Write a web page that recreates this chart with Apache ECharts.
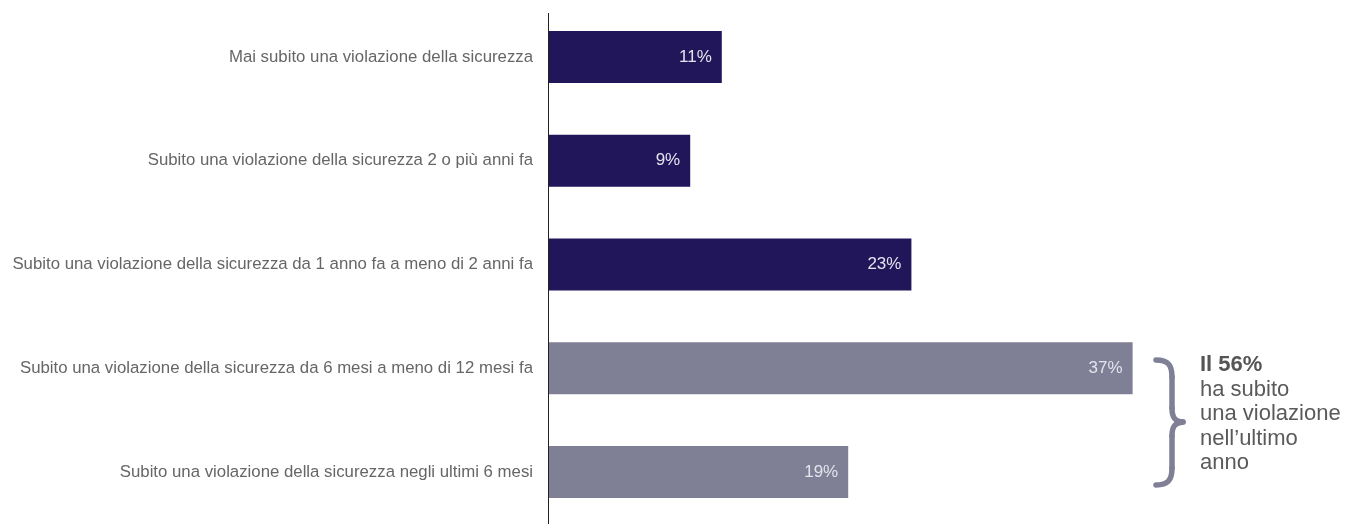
<!DOCTYPE html>
<html>
<head>
<meta charset="utf-8">
<script src="https://cdn.jsdelivr.net/npm/echarts@6/dist/echarts.min.js"></script>
<style>
html,body{margin:0;padding:0;background:#fff;}
#chart{width:1357px;height:524px;}
</style>
</head>
<body>
<div id="chart"></div>
<script>
const categories = [
  'Mai subito una violazione della sicurezza',
  'Subito una violazione della sicurezza 2 o più anni fa',
  'Subito una violazione della sicurezza da 1 anno fa a meno di 2 anni fa',
  'Subito una violazione della sicurezza da 6 mesi a meno di 12 mesi fa',
  'Subito una violazione della sicurezza negli ultimi 6 mesi'
];
const values = [11, 9, 23, 37, 19];
const recentFlags = [false, false, false, true, true];
const annotationTitle = 'Il 56%';
const annotationLines = ['ha subito', 'una violazione', 'nell\u2019ultimo', 'anno'];

const DARK = '#201659';
const GREY = '#7f7f95';
const FONT = 'Liberation Sans, Arial, sans-serif';
const braceStyle = {stroke: GREY, lineWidth: 5.5, lineCap: 'round', fill: null};

function curve(x1, y1, cx1, cy1, cx2, cy2, x2, y2) {
  return {type: 'bezierCurve', shape: {x1, y1, cpx1: cx1, cpy1: cy1, cpx2: cx2, cpy2: cy2, x2, y2}, style: braceStyle};
}
function seg(x1, y1, x2, y2) {
  return {type: 'line', shape: {x1, y1, x2, y2}, style: braceStyle};
}

const chart = echarts.init(document.getElementById('chart'), null, {renderer: 'canvas'});
chart.setOption({
  animation: false,
  backgroundColor: '#ffffff',
  grid: {left: 548, top: 5, width: 632, height: 522, containLabel: false},
  xAxis: {
    type: 'value', min: 0, max: 40, show: false
  },
  yAxis: {
    type: 'category', data: categories, inverse: true,
    axisLine: {show: false},
    axisTick: {show: false},
    axisLabel: {color: '#666666', fontSize: 16.8, margin: 15, fontFamily: FONT}
  },
  series: [{
    type: 'bar',
    barWidth: 52,
    data: values.map((v, i) => ({value: v, itemStyle: {color: recentFlags[i] ? GREY : DARK}})),
    label: {
      show: true, position: 'insideRight', distance: 10,
      formatter: '{c}%', color: '#e4e4ee', fontSize: 17,
      fontFamily: FONT
    }
  }],
  graphic: [
    {type: 'line', shape: {x1: 548.5, y1: 13, x2: 548.5, y2: 524}, style: {stroke: '#222222', lineWidth: 1}, z: 10},
    curve(1156, 360, 1168, 360, 1172, 365, 1172, 377),
    seg(1172, 377, 1172, 408),
    curve(1172, 408, 1172, 418, 1175, 421, 1183, 422),
    curve(1183, 422, 1175, 423, 1172, 426, 1172, 436),
    seg(1172, 436, 1172, 468),
    curve(1172, 468, 1172, 480, 1168, 485, 1156, 485),
    {
      type: 'text', left: 1200, top: 353,
      style: {
        text: '{b|' + annotationTitle + '}\n' + annotationLines.join('\n'),
        font: '22px ' + FONT,
        fill: '#5a5a5a', lineHeight: 24.5,
        rich: {b: {fontWeight: 'bold', fontSize: 22, fill: '#555555', lineHeight: 24.5, fontFamily: FONT}}
      }
    }
  ]
});
</script>
</body>
</html>
